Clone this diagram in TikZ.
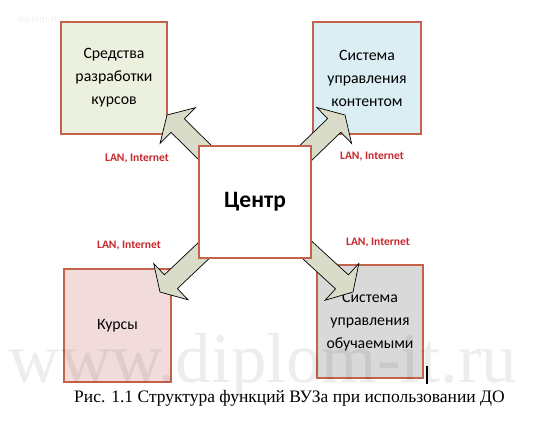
\documentclass[tikz,border=0pt]{standalone}
\usepackage{fontspec}
\setmainfont{Liberation Serif}
\newfontfamily\calfont{Carlito}
\usetikzlibrary{calc}
\definecolor{boxline}{RGB}{196,98,74}
\definecolor{fgreen}{RGB}{235,241,222}
\definecolor{fblue}{RGB}{219,238,244}
\definecolor{fpink}{RGB}{242,220,219}
\definecolor{fgray}{RGB}{217,217,217}
\definecolor{arrfill}{RGB}{216,220,200}
\definecolor{lanred}{RGB}{200,40,45}
\tikzset{
  cbox/.style={draw=boxline, line width=1.2pt, inner sep=2pt, align=center,
    font=\calfont\fontsize{15.8}{23}\selectfont},
  lanlabel/.style={font=\calfont\bfseries\fontsize{11.5}{13}\selectfont, text=lanred, inner sep=0pt},
  blockarrow/.style={draw=black, line width=0.7pt, fill=arrfill, line join=miter}
}
\newcommand\blockarr[2]{%
  \path[blockarrow]
    (#2)
    -- ($($(#2)!15pt!(#1)$)!25pt!90:(#2)$)
    -- ($($(#2)!15pt!(#1)$)!9.5pt!90:(#2)$)
    -- ($(#1)!9.5pt!90:(#2)$)
    -- ($(#1)!9.5pt!-90:(#2)$)
    -- ($($(#2)!15pt!(#1)$)!9.5pt!-90:(#2)$)
    -- ($($(#2)!15pt!(#1)$)!25pt!-90:(#2)$)
    -- cycle;}
\begin{document}
\begin{tikzpicture}[x=1pt,y=-1pt]
\useasboundingbox (0,0) rectangle (546,421);
\fill[white] (0,0) rectangle (546,421);
% outer boxes
\node[cbox, fill=fgreen, minimum width=106pt, minimum height=112pt] (dev) at (114,78) {Средства\\разработки\\курсов};
\node[cbox, fill=fblue, minimum width=108pt, minimum height=112pt] (cms) at (367,78) {Система\\управления\\контентом};
\node[cbox, fill=fpink, minimum width=107pt, minimum height=113pt] (kurs) at (117.5,325.5) {Курсы};
\node[cbox, fill=fgray, minimum width=106pt, minimum height=113pt] (lms) at (370,321.5) {Система\\управления\\обучаемыми};
% arrow tips
\coordinate (ctr) at (255,202);
\coordinate (tipTL) at (167,115);
\coordinate (tipTR) at (345,115);
\coordinate (tipBL) at (160,292);
\coordinate (tipBR) at (353,292);
\blockarr{ctr}{tipTL}
\blockarr{ctr}{tipTR}
\blockarr{ctr}{tipBL}
\blockarr{ctr}{tipBR}
% centre
\node[draw=boxline, line width=1.2pt, fill=white, minimum width=112pt, minimum height=112pt,
  font=\calfont\bfseries\fontsize{23.5}{27}\selectfont] (c) at (ctr) {Центр};
% labels
\node[lanlabel] (l1) at (137,159) {LAN, Internet};
\node[lanlabel] (l2) at (372,156.5) {LAN, Internet};
\node[lanlabel] (l3) at (129,246) {LAN, Internet};
\node[lanlabel] (l4) at (378,243) {LAN, Internet};
% watermarks
\node[font=\fontsize{71}{78}\selectfont, text=black, text opacity=0.07, anchor=base, inner sep=0pt] (wm) at (263,382) {www.diplom-it.ru};
\node[font=\sffamily\fontsize{11}{12}\selectfont, text=black, text opacity=0.06, inner sep=0pt] (wmsmall) at (44,20) {diplom-it.ru};
% cursor
\coordinate (cur1) at (427,366);
\coordinate (cur2) at (427,384);
\draw[line width=1.2pt] (cur1) -- (cur2);
% caption
\node[font=\fontsize{17.5}{20}\selectfont, anchor=base, inner sep=0pt] (cap) at (289.5,402) {Рис. 1.1 Структура функций ВУЗа при использовании ДО};
\end{tikzpicture}
\end{document}
